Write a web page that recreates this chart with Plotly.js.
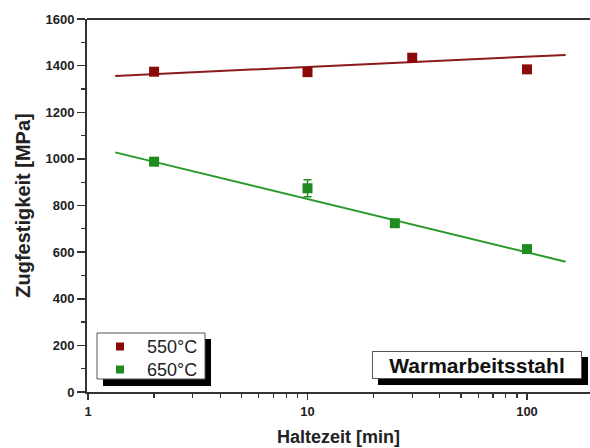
<!DOCTYPE html>
<html>
<head>
<meta charset="utf-8">
<script src="https://cdn.plot.ly/plotly-3.0.1.min.js"></script>
<style>html,body{margin:0;padding:0;background:#fff;}#chart{width:590px;height:448px;}</style>
</head>
<body>
<div id="chart"></div>
<script>
// Data
var time550 = [2, 10, 30, 100];
var strength550 = [1374, 1372, 1434, 1384];
var time650 = [2, 10, 25, 100];
var strength650 = [988, 874, 724, 613];
var err650 = [0, 36, 0, 0];
var fitTime = [1.33, 150];
var fit550 = [1356, 1446];
var fit650 = [1028, 559];
var xTickVals = [1, 10, 100];
var xTickText = ['1', '10', '100'];
var xMinorVals = [2,3,4,5,6,7,8,9,20,30,40,50,60,70,80,90,200];
var yTickVals = [0, 200, 400, 600, 800, 1000, 1200, 1400, 1600];
var seriesNames = ['550°C', '650°C'];

var red = '#8c0a0a', green = '#1e8c1e';
var redLine = '#8b1a1a', greenLine = '#2a9a2a';
var seriesColors = [red, green];

var traces = [
  {x: fitTime, y: fit550, mode: 'lines', line: {color: redLine, width: 2}, showlegend: false, hoverinfo: 'skip'},
  {x: fitTime, y: fit650, mode: 'lines', line: {color: greenLine, width: 2}, showlegend: false, hoverinfo: 'skip'},
  {x: time550, y: strength550, mode: 'markers', name: seriesNames[0], showlegend: false,
   marker: {symbol: 'square', size: 10, color: red}},
  {x: time650, y: strength650, mode: 'markers', name: seriesNames[1], showlegend: false,
   marker: {symbol: 'square', size: 10, color: green},
   error_y: {type: 'data', array: err650, visible: true, color: green, thickness: 1.5, width: 4}}
];

var FF = 'Liberation Sans, Arial, sans-serif';
// pixel -> paper helpers (plot area: x 87..590, y 19..392)
function px(x) { return (x - 87) / 503; }
function py(y) { return (392 - y) / 373; }

var shapes = [
  {type: 'line', xref: 'paper', yref: 'paper', x0: 0, x1: 1, y0: 1, y1: 1, line: {color: '#333', width: 2}},
  // legend shadow + box
  {type: 'rect', xref: 'paper', yref: 'paper', x0: px(103), x1: px(211), y0: py(386), y1: py(339), fillcolor: '#000', line: {width: 0}},
  {type: 'rect', xref: 'paper', yref: 'paper', x0: px(97), x1: px(205), y0: py(379), y1: py(333), fillcolor: '#fff', line: {color: '#555', width: 1}},
  // label box shadow
  {type: 'rect', xref: 'paper', yref: 'paper', x0: px(378), x1: px(588), y0: py(385), y1: py(357), fillcolor: '#000', line: {width: 0}}
];
var annotations = [
  {xref: 'paper', yref: 'paper', x: px(477), y: py(365), xanchor: 'center', yanchor: 'middle',
   text: '<b>Warmarbeitsstahl</b>', showarrow: false,
   font: {family: FF, size: 21, color: '#111'},
   bgcolor: '#ffffff', bordercolor: '#555', borderwidth: 1, borderpad: 2, width: 204, height: 22}
];
var rowY = [346.5, 369.5];
for (var i = 0; i < seriesNames.length; i++) {
  shapes.push({type: 'rect', xref: 'paper', yref: 'paper', x0: px(116), x1: px(124), y0: py(rowY[i] + 4), y1: py(rowY[i] - 4),
    fillcolor: seriesColors[i], line: {width: 0}});
  annotations.push({xref: 'paper', yref: 'paper', x: px(145), y: py(rowY[i]), xanchor: 'left', yanchor: 'middle',
    text: seriesNames[i], showarrow: false, font: {family: FF, size: 18, color: '#222'}});
}

var layout = {
  width: 590, height: 448,
  margin: {l: 87, r: 0, t: 19, b: 56},
  paper_bgcolor: '#ffffff', plot_bgcolor: '#ffffff',
  font: {family: FF, color: '#222'},
  xaxis: {
    type: 'log', range: [-0.0046, 2.287],
    tickmode: 'array', tickvals: xTickVals, ticktext: xTickText.map(function (t) { return '<b>' + t + '</b>'; }),
    ticks: 'outside', ticklen: 6, tickwidth: 1.5, tickcolor: '#333',
    minor: {tickmode: 'array', tickvals: xMinorVals, ticks: 'outside', ticklen: 4, tickwidth: 1.2, tickcolor: '#333', showgrid: false},
    showgrid: false, zeroline: false,
    showline: true, linecolor: '#333', linewidth: 2,
    tickfont: {family: FF, size: 13, color: '#222'},
    title: {text: '<b>Haltezeit [min]</b>', font: {family: FF, size: 18, color: '#222'}, standoff: 13}
  },
  yaxis: {
    range: [0, 1600],
    tickmode: 'array', tickvals: yTickVals, ticktext: yTickVals.map(function (v) { return '<b>' + v + '</b>'; }),
    ticks: 'outside', ticklen: 8, tickwidth: 1.5, tickcolor: '#333',
    minor: {dtick: 100, ticks: 'outside', ticklen: 4, tickwidth: 1.2, tickcolor: '#333', showgrid: false},
    showgrid: false, zeroline: false,
    showline: true, linecolor: '#333', linewidth: 2,
    tickfont: {family: FF, size: 13, color: '#222'},
    title: {text: '<b>Zugfestigkeit [MPa]</b>', font: {family: FF, size: 20, color: '#222'}, standoff: 9}
  },
  showlegend: false,
  shapes: shapes,
  annotations: annotations
};

Plotly.newPlot('chart', traces, layout, {displayModeBar: false, staticPlot: true});
</script>
</body>
</html>
